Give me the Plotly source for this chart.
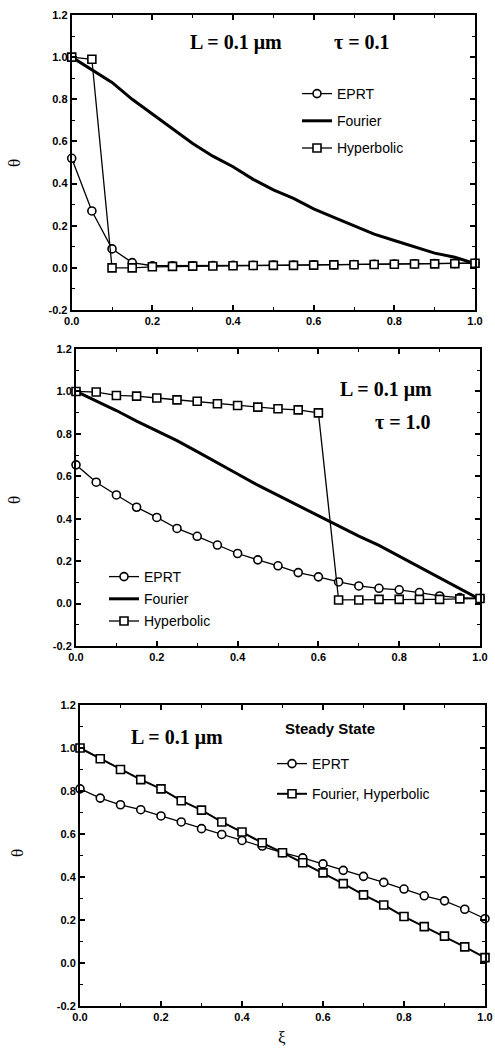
import plotly.graph_objects as go

# ---------------- data ----------------
xi = [0.0, 0.05, 0.1, 0.15, 0.2, 0.25, 0.3, 0.35, 0.4, 0.45, 0.5,
      0.55, 0.6, 0.65, 0.7, 0.75, 0.8, 0.85, 0.9, 0.95, 1.0]

# Panel 1: tau = 0.1
eprt_t01 = [0.52, 0.27, 0.09, 0.025, 0.01, 0.01, 0.01, 0.011, 0.012, 0.012, 0.013,
            0.013, 0.014, 0.015, 0.016, 0.017, 0.018, 0.019, 0.02, 0.02, 0.022]
fourier_t01 = [1.0, 0.94, 0.88, 0.80, 0.73, 0.66, 0.59, 0.53, 0.48, 0.42, 0.37,
               0.33, 0.28, 0.24, 0.20, 0.16, 0.13, 0.10, 0.07, 0.05, 0.02]
hyper_t01 = [1.0, 0.99, 0.0, 0.0, 0.005, 0.007, 0.008, 0.009, 0.01, 0.011, 0.012,
             0.012, 0.013, 0.014, 0.015, 0.016, 0.017, 0.018, 0.019, 0.02, 0.022]

# Panel 2: tau = 1.0
eprt_t10 = [0.654, 0.572, 0.512, 0.454, 0.406, 0.354, 0.317, 0.276, 0.236, 0.206, 0.178,
            0.146, 0.126, 0.102, 0.083, 0.072, 0.065, 0.052, 0.036, 0.028, 0.024]
fourier_t10 = [1.0, 0.955, 0.91, 0.86, 0.815, 0.768, 0.716, 0.665, 0.611, 0.558, 0.51,
               0.462, 0.413, 0.363, 0.318, 0.274, 0.224, 0.172, 0.12, 0.07, 0.02]
hyper_t10 = [1.0, 0.997, 0.981, 0.978, 0.969, 0.96, 0.954, 0.942, 0.934, 0.926, 0.918,
             0.913, 0.899, 0.017, 0.017, 0.02, 0.02, 0.02, 0.02, 0.022, 0.024]

# Panel 3: steady state
eprt_ss = [0.81, 0.767, 0.736, 0.713, 0.684, 0.656, 0.625, 0.598, 0.57, 0.544, 0.513,
           0.489, 0.461, 0.431, 0.403, 0.375, 0.344, 0.3125, 0.289, 0.25, 0.206]
fourhyp_ss = [1.0, 0.95, 0.9, 0.853, 0.81, 0.755, 0.711, 0.656, 0.609, 0.559, 0.513,
              0.466, 0.419, 0.369, 0.317, 0.27, 0.216, 0.169, 0.125, 0.075, 0.025]

x_tickvals = [0.0, 0.2, 0.4, 0.6, 0.8, 1.0]
x_ticktext = ["0.0", "0.2", "0.4", "0.6", "0.8", "1.0"]
y_tickvals = [-0.2, 0.0, 0.2, 0.4, 0.6, 0.8, 1.0, 1.2]
y_ticktext = ["-0.2", "0.0", "0.2", "0.4", "0.6", "0.8", "1.0", "1.2"]

# ---------------- figure ----------------
W, H = 495, 1049
fig = go.Figure()

circle = dict(symbol="circle", size=8, color="white", line=dict(color="black", width=1.6))
square = dict(symbol="square", size=8, color="white", line=dict(color="black", width=1.6))


def add(x, y, name, ax, legend, mode, marker=None, lw=1.3, group=None):
    fig.add_trace(go.Scatter(
        x=x, y=y, name=name, mode=mode,
        xaxis="x" + ("" if ax == 1 else str(ax)),
        yaxis="y" + ("" if ax == 1 else str(ax)),
        line=dict(color="black", width=lw),
        marker=marker, legend=legend, legendgroup=group,
        cliponaxis=False,
    ))

# panel 1
add(xi, eprt_t01, "EPRT", 1, "legend", "lines+markers", circle, group="a1")
add(xi, fourier_t01, "Fourier", 1, "legend", "lines", lw=3, group="a2")
add(xi, hyper_t01, "Hyperbolic", 1, "legend", "lines+markers", square, group="a3")
# panel 2
add(xi, eprt_t10, "EPRT", 2, "legend2", "lines+markers", circle, group="b1")
add(xi, fourier_t10, "Fourier", 2, "legend2", "lines", lw=3, group="b2")
add(xi, hyper_t10, "Hyperbolic", 2, "legend2", "lines+markers", square, group="b3")
# panel 3
add(xi, eprt_ss, "EPRT", 3, "legend3", "lines+markers", circle, group="c1")
add(xi, fourhyp_ss, "Fourier, Hyperbolic", 3, "legend3", "lines+markers", square, lw=2, group="c2")

# pixel domains
px_x = {1: (71.7, 475.0), 2: (76.0, 480.0), 3: (80.0, 485.0)}
px_y = {1: (15.0, 310.0), 2: (349.0, 646.0), 3: (705.0, 1006.0)}

tickfont = dict(family="Liberation Sans, Arial, sans-serif", size=11, color="black", weight="bold")
for i in (1, 2, 3):
    sx = "" if i == 1 else str(i)
    x0, x1 = px_x[i]
    yt, yb = px_y[i]
    fig.layout["xaxis" + sx] = dict(
        domain=[x0 / W, x1 / W], anchor="y" + sx, range=[0, 1],
        tickvals=x_tickvals, ticktext=x_ticktext,
        showline=True, linecolor="black", linewidth=2, mirror="allticks",
        ticks="inside", ticklen=5, tickwidth=1.5, tickcolor="black",
        minor=dict(ticks="inside", ticklen=3, tickwidth=1.2, dtick=0.1, tickcolor="black"),
        showgrid=False, zeroline=False, tickfont=tickfont, automargin=False,
    )
    fig.layout["yaxis" + sx] = dict(
        domain=[1 - yb / H, 1 - yt / H], anchor="x" + sx, range=[-0.2, 1.2],
        tickvals=y_tickvals, ticktext=y_ticktext,
        showline=True, linecolor="black", linewidth=2, mirror="allticks",
        ticks="inside", ticklen=5, tickwidth=1.5, tickcolor="black",
        minor=dict(ticks="inside", ticklen=3, tickwidth=1.2, dtick=0.1, tickcolor="black"),
        showgrid=False, zeroline=False, tickfont=tickfont, automargin=False,
    )

legfont = dict(family="Liberation Sans, Arial, sans-serif", size=14, color="black")
leg_common = dict(font=legfont, bgcolor="rgba(0,0,0,0)", borderwidth=0,
                  xanchor="left", yanchor="top", traceorder="grouped")
fig.update_layout(
    width=W, height=H, margin=dict(l=0, r=0, t=0, b=0),
    paper_bgcolor="white", plot_bgcolor="white", showlegend=True,
    legend=dict(x=297 / W, y=1 - 78 / H, tracegroupgap=6, **leg_common),
    legend2=dict(x=104 / W, y=1 - 561 / H, tracegroupgap=1, **leg_common),
    legend3=dict(x=272 / W, y=1 - 748 / H, tracegroupgap=9, **leg_common),
)

serif = dict(family="Liberation Serif, Times New Roman, serif", size=20, color="black", weight="bold")
ann = [
    dict(text="L = 0.1 μm", x=236 / W, y=1 - 42 / H, font=serif),
    dict(text="τ = 0.1", x=362 / W, y=1 - 42 / H, font=serif),
    dict(text="L = 0.1 μm", x=386 / W, y=1 - 390 / H, font=serif),
    dict(text="τ = 1.0", x=403 / W, y=1 - 422 / H, font=serif),
    dict(text="L = 0.1 μm", x=177 / W, y=1 - 737 / H, font=serif),
    dict(text="Steady State", x=330 / W, y=1 - 728 / H,
         font=dict(family="Liberation Sans, Arial, sans-serif", size=15, color="black", weight="bold")),
    dict(text="θ", x=15 / W, y=1 - 163 / H, textangle=-90,
         font=dict(family="Liberation Serif, serif", size=17, color="black")),
    dict(text="θ", x=15 / W, y=1 - 500 / H, textangle=-90,
         font=dict(family="Liberation Serif, serif", size=17, color="black")),
    dict(text="θ", x=17 / W, y=1 - 853 / H, textangle=-90,
         font=dict(family="Liberation Serif, serif", size=17, color="black")),
    dict(text="ξ", x=282 / W, y=1 - 1037 / H,
         font=dict(family="Liberation Serif, serif", size=17, color="black")),
]
for a in ann:
    a.update(xref="paper", yref="paper", showarrow=False, xanchor="center", yanchor="middle")
    fig.add_annotation(**a)

fig.write_html("out.html", post_script="document.body.style.margin='0';",
               config={"displayModeBar": False})
